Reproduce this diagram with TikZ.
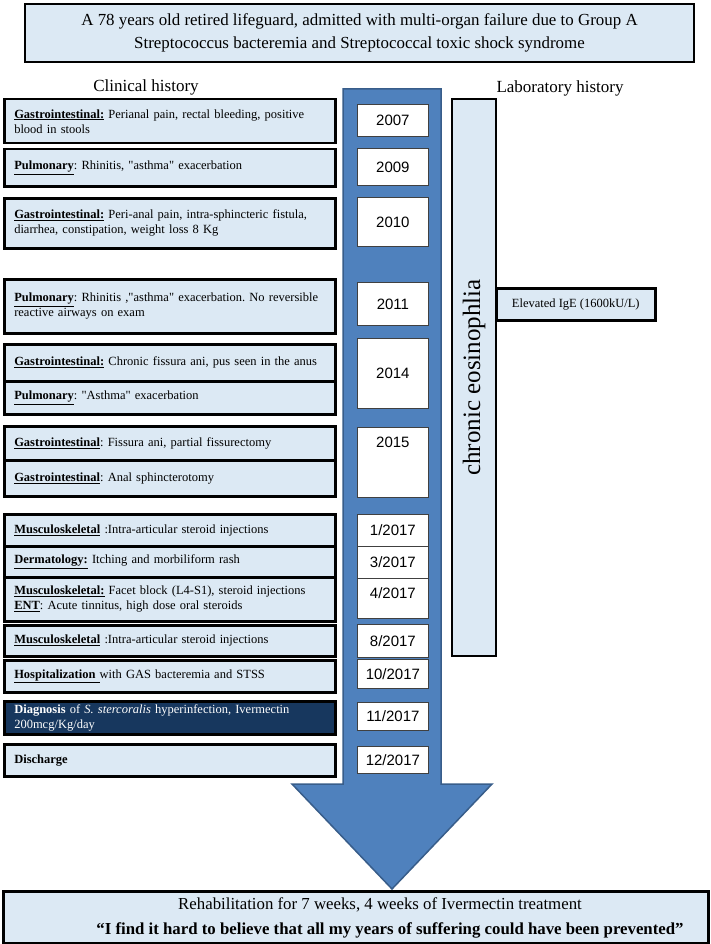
\documentclass[tikz,border=0pt]{standalone}
\usepackage{fontspec}
\setmainfont{Liberation Serif}
\newfontfamily\yearfont{Liberation Sans}
\usetikzlibrary{positioning}
\definecolor{paleblue}{HTML}{DCE9F4}
\definecolor{arrowblue}{HTML}{4F81BD}
\definecolor{arrowedge}{HTML}{385D8A}
\definecolor{navybox}{HTML}{17375E}

\newcommand{\cat}[1]{\underline{\textbf{#1}}}
\newcommand{\dq}{\textquotedbl}
\frenchspacing

\begin{document}
\begin{tikzpicture}[
    x=1pt, y=-1pt, % one unit = one pixel of the layout, y runs down
    every node/.style={font=\fontsize{12.5}{15}\selectfont},
    event box/.style={draw=black, line width=2.5pt, fill=paleblue, anchor=north west,
        minimum width=331pt, text width=311pt, inner xsep=10pt, inner ysep=1pt, align=left},
    year box/.style={draw=black!75, line width=0.8pt, fill=white, anchor=north west,
        minimum width=71pt, inner sep=0pt, font=\yearfont\fontsize{15}{17}\selectfont},
    head box/.style={draw=black, line width=2.5pt, fill=paleblue, inner sep=0pt}
]
    \useasboundingbox (0,0) rectangle (711,944);

    % --- 1. TITLE AND COLUMN HEADINGS ---
    \node[head box, minimum width=669pt, minimum height=58pt, align=center,
          font=\fontsize{16.9}{23}\selectfont] (title) at (359.5,33)
        {A 78 years old retired lifeguard, admitted with multi-organ failure due to Group A\\
         Streptococcus bacteremia and Streptococcal toxic shock syndrome};

    \node[font=\fontsize{17}{18}\selectfont] (clinical) at (146,87) {Clinical history};
    \node[font=\fontsize{17}{18}\selectfont] (lab) at (560,88) {Laboratory history};

    % --- 2. THE TIME ARROW ---
    \draw[arrowedge, fill=arrowblue, line width=1.5pt]
        (343,89) -- (441,89) -- (441,784) -- (492,784) -- (392,889)
        -- (292,784) -- (343,784) -- cycle;

    % --- 3. YEARS ON THE ARROW ---
    \node[year box, minimum height=32pt] (y2007) at (357,104) {2007};
    \node[year box, minimum height=37pt] (y2009) at (357,148) {2009};
    \node[year box, minimum height=49pt] (y2010) at (357,197) {2010};
    \node[year box, minimum height=43pt] (y2011) at (357,282) {2011};
    \node[year box, minimum height=70pt] (y2014) at (357,338) {2014};
    \node[year box, minimum height=70pt, text height=11pt, text depth=41pt] (y2015) at (357,427) {2015};
    \node[year box, minimum height=32pt] (jan17) at (357,514) {1/2017};
    \node[year box, minimum height=32pt] (mar17) at (357,546) {3/2017};
    \node[year box, minimum height=40pt, text height=11pt, text depth=11pt] (apr17) at (357,578) {4/2017};
    \node[year box, minimum height=33pt] (aug17) at (357,624) {8/2017};
    \node[year box, minimum height=29pt] (oct17) at (357,659) {10/2017};
    \node[year box, minimum height=28pt] (nov17) at (357,702) {11/2017};
    \node[year box, minimum height=27pt] (dec17) at (357,746) {12/2017};

    % --- 4. CLINICAL HISTORY (LEFT COLUMN) ---
    \node[event box, minimum height=44pt] (gi07) at (3,98)
        {\cat{Gastrointestinal:} Perianal pain, rectal bleeding, positive\\ blood in stools};
    \node[event box, minimum height=37pt] (pul09) at (3,148)
        {\cat{Pulmonary}: Rhinitis, \dq asthma\dq{} exacerbation};
    \node[event box, minimum height=50pt] (gi10) at (3,197)
        {\cat{Gastrointestinal:} Peri-anal pain, intra-sphincteric fistula,\\ diarrhea, constipation, weight loss 8 Kg};
    \node[event box, minimum height=54pt] (pul11) at (3,278)
        {\cat{Pulmonary}: Rhinitis ,\dq asthma\dq{} exacerbation. No reversible\\ reactive airways on exam};
    \node[event box, minimum height=37pt] (gi14) at (3,343)
        {\cat{Gastrointestinal:} Chronic fissura ani, pus seen in the anus};
    \node[event box, minimum height=33pt] (pul14) at (3,380)
        {\cat{Pulmonary}: \dq Asthma\dq{} exacerbation};
    \node[event box, minimum height=34pt] (gi15a) at (3,425)
        {\cat{Gastrointestinal}: Fissura ani, partial fissurectomy};
    \node[event box, minimum height=36pt] (gi15b) at (3,459)
        {\cat{Gastrointestinal}: Anal sphincterotomy};
    \node[event box, minimum height=32pt] (msk01) at (3,513)
        {\cat{Musculoskeletal} :Intra-articular steroid injections};
    \node[event box, minimum height=31pt] (derm03) at (3,545)
        {\cat{Dermatology:} Itching and morbiliform rash};
    \node[event box, minimum height=44pt] (msk04) at (3,576)
        {\cat{Musculoskeletal:} Facet block (L4-S1), steroid injections\\ \cat{ENT}: Acute tinnitus, high dose oral steroids};
    \node[event box, minimum height=31pt] (msk08) at (3,624)
        {\cat{Musculoskeletal} :Intra-articular steroid injections};
    \node[event box, minimum height=32pt] (hosp10) at (3,659)
        {\underline{\textbf{Hospitalization\ }}with GAS bacteremia and STSS};
    \node[event box, minimum height=33pt, fill=navybox, text=white] (diag11) at (3,700)
        {\textbf{Diagnosis} of \textit{S. stercoralis} hyperinfection, Ivermectin\\ 200mcg/Kg/day};
    \node[event box, minimum height=32pt] (disc12) at (3,743) {\textbf{Discharge}};

    % --- 5. LABORATORY HISTORY (RIGHT COLUMN) ---
    \node[head box, rotate=90, minimum width=557pt, minimum height=44pt,
          font=\fontsize{25}{25}\selectfont] (eosin) at (474,377.5) {chronic eosinophlia};
    \node[head box, anchor=north west, minimum width=159pt, minimum height=32pt] (ige) at (495,287)
        {Elevated IgE (1600kU/L)};

    % --- 6. OUTCOME ---
    \node[head box, anchor=north west, minimum width=705pt, minimum height=52pt] (outcome) at (2,890) {};
    \node[font=\fontsize{16.8}{18}\selectfont] (rehab) at (380,905)
        {Rehabilitation for 7 weeks, 4 weeks of Ivermectin treatment};
    \node[font=\bfseries\fontsize{16.8}{18}\selectfont] (quote) at (390,930)
        {“I find it hard to believe that all my years of suffering could have been prevented”};
\end{tikzpicture}
\end{document}
